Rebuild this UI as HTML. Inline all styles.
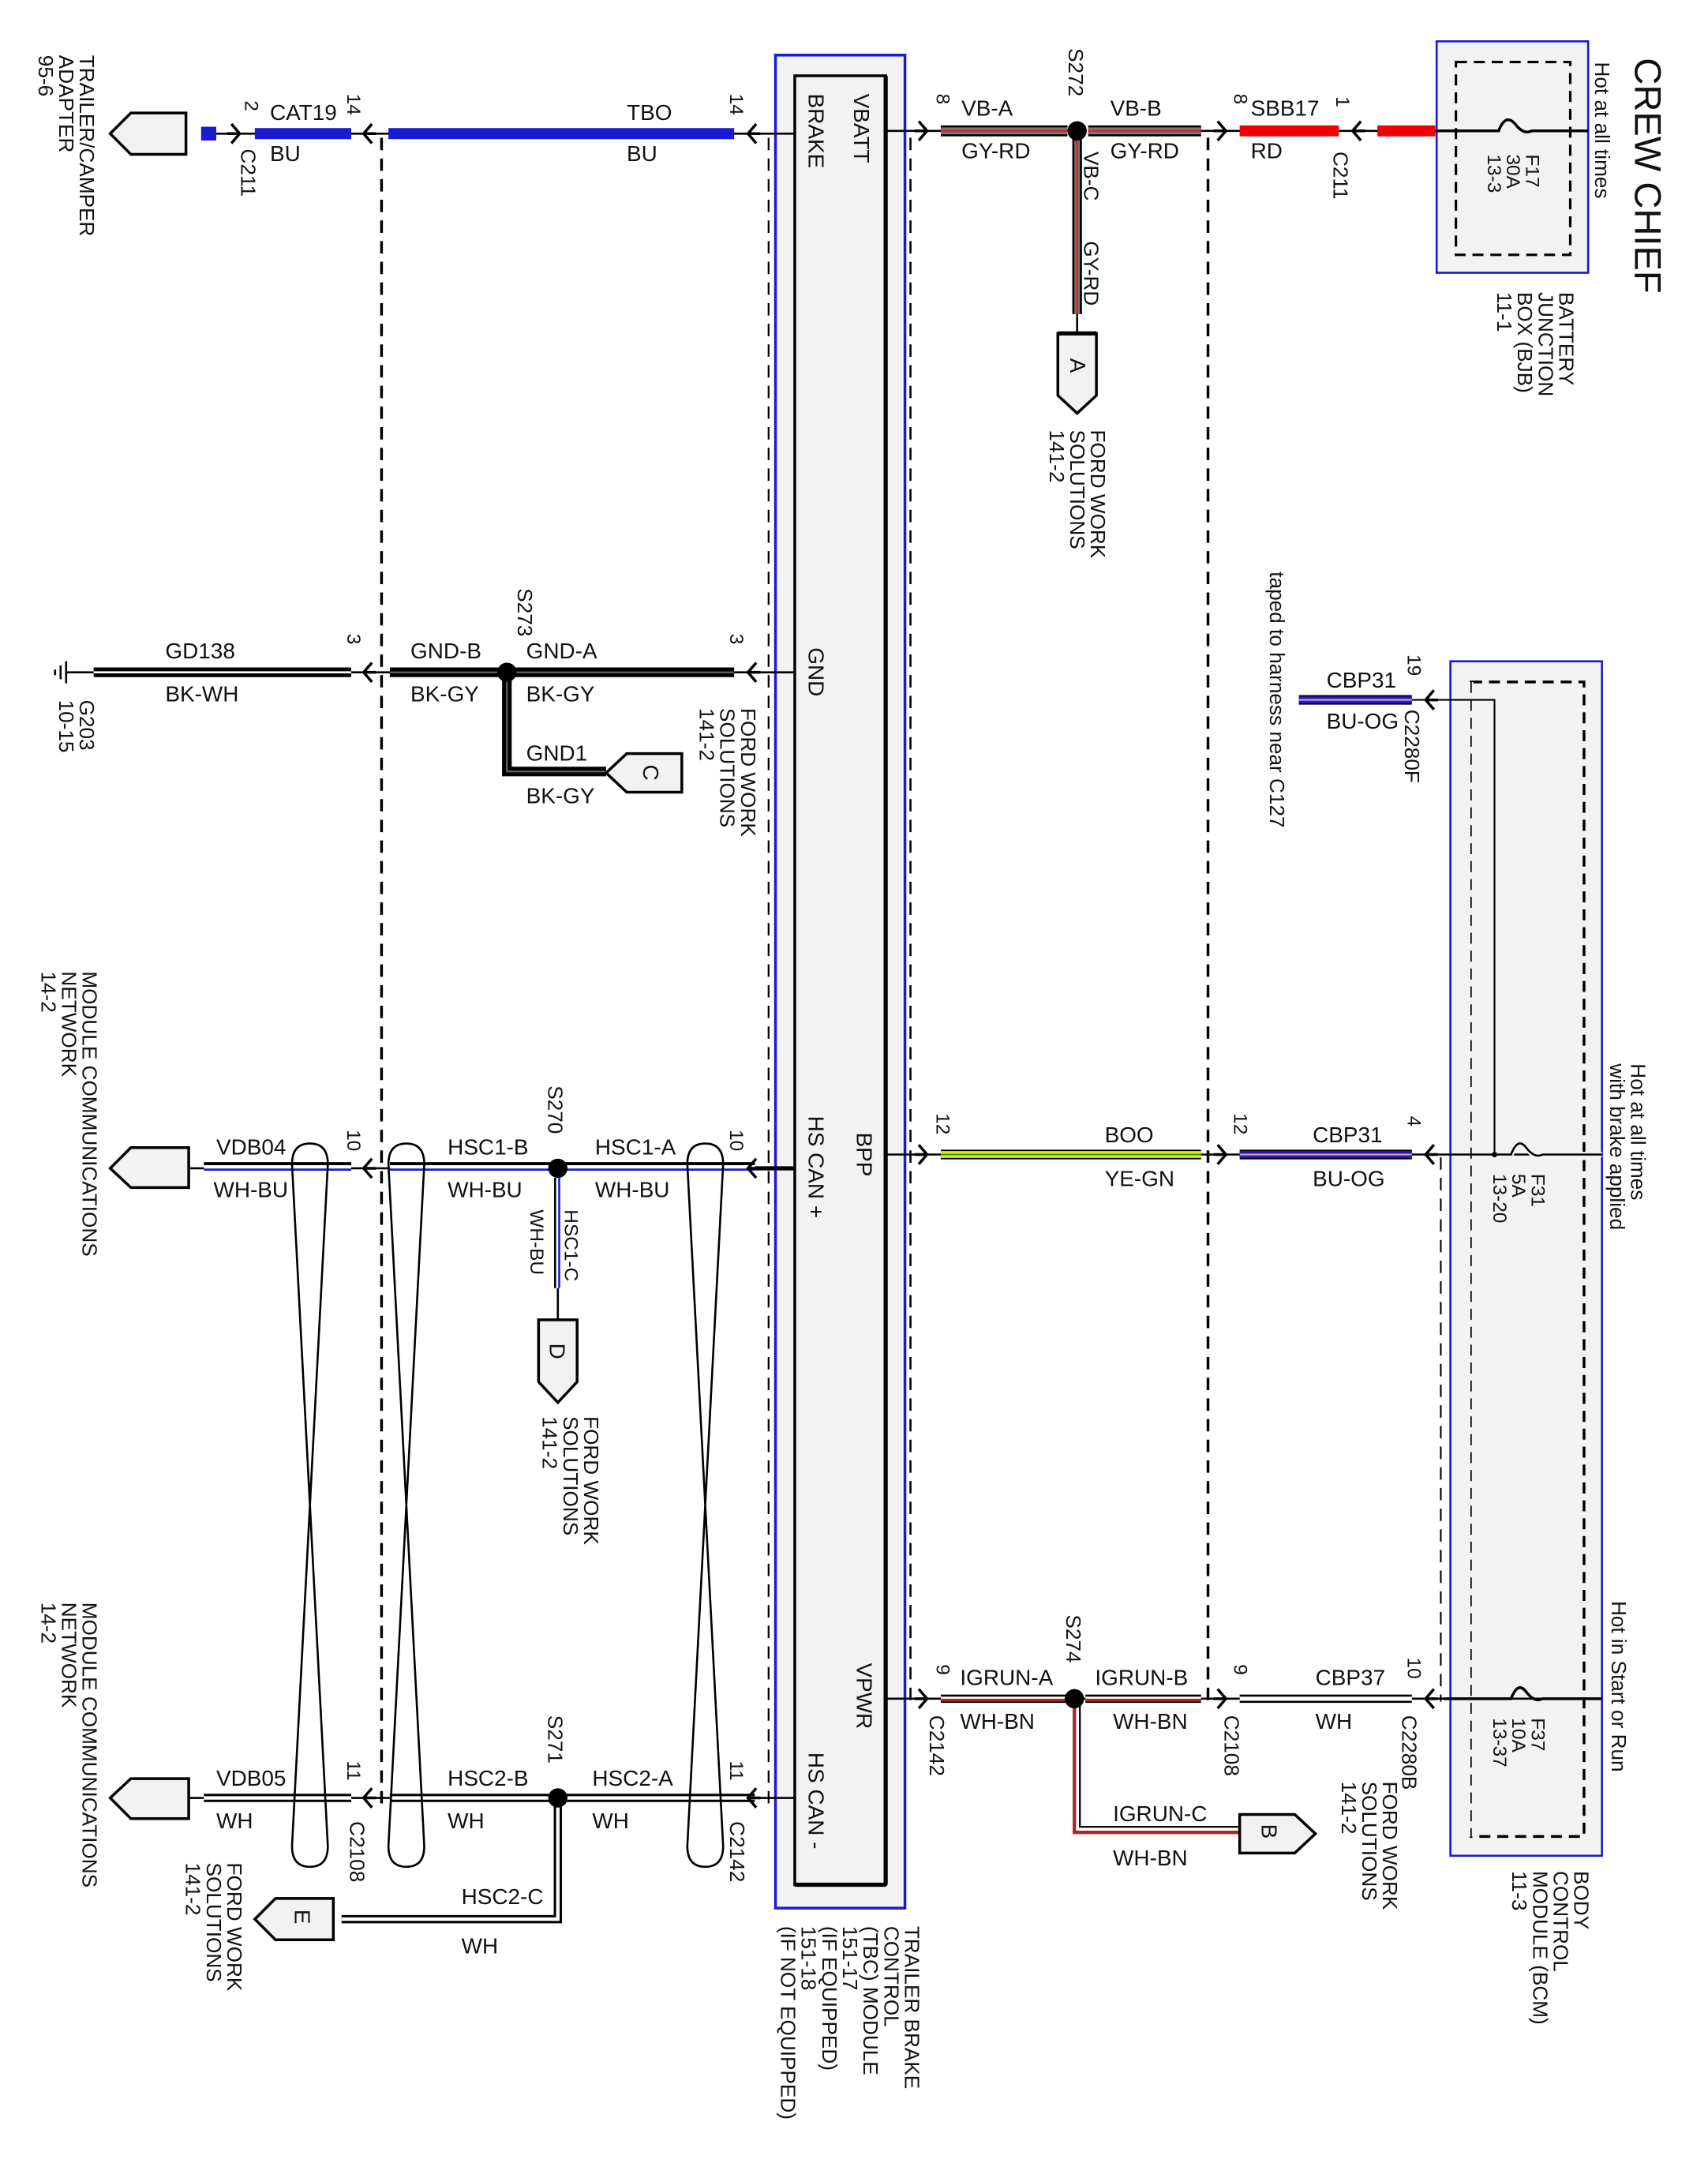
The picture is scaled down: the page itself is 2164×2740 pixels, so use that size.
<!DOCTYPE html>
<html><head><meta charset="utf-8"><style>
html,body{margin:0;padding:0;background:#fff}
svg{display:block}
text{font-family:"Liberation Sans",sans-serif;fill:#111}
</style></head><body>
<svg width="2164" height="2740" viewBox="0 0 1240 1570" preserveAspectRatio="none" xmlns="http://www.w3.org/2000/svg">
<defs>
<g id="la"><path d="M6,-7 L0,0 L6,7 M0,0 H9" fill="none" stroke="#000" stroke-width="2"/></g>
<g id="ra"><path d="M-6,-7 L0,0 L-6,7 M0,0 H-9" fill="none" stroke="#000" stroke-width="2"/></g>
</defs>
<g font-size="16">
<!-- TBC module -->
<rect x="563" y="40" width="94" height="1345" fill="#f2f2f2" stroke="#1a1ad0" stroke-width="2"/>
<rect x="577" y="55" width="66" height="1313" fill="#f2f2f2" stroke="#000" stroke-width="2"/>
<line x1="643" y1="55" x2="643" y2="1368" stroke="#000" stroke-width="3"/>
<line x1="577" y1="1368" x2="643" y2="1368" stroke="#000" stroke-width="3"/>
<text transform="translate(620,68) rotate(90)">VBATT</text>
<text transform="translate(587,68) rotate(90)">BRAKE</text>
<text transform="translate(587,470) rotate(90)">GND</text>
<text transform="translate(622,822) rotate(90)">BPP</text>
<text transform="translate(587,810) rotate(90)">HS CAN +</text>
<text transform="translate(622,1207) rotate(90)">VPWR</text>
<text transform="translate(587,1272) rotate(90)">HS CAN -</text>
<text transform="translate(657,1398) rotate(90)" font-size="15"><tspan x="0">TRAILER BRAKE</tspan><tspan x="0" dy="15">CONTROL</tspan><tspan x="0" dy="15">(TBC) MODULE</tspan><tspan x="0" dy="15">151-17</tspan><tspan x="0" dy="15">(IF EQUIPPED)</tspan><tspan x="0" dy="15">151-18</tspan><tspan x="0" dy="15">(IF NOT EQUIPPED)</tspan></text>

<!-- dashed verticals -->
<g stroke="#000" stroke-width="2" stroke-dasharray="9,6" fill="none">
<line x1="277" y1="100" x2="277" y2="1310"/>
<line x1="558" y1="100" x2="558" y2="1310" stroke-width="1.3"/>
<line x1="661" y1="100" x2="661" y2="1235" stroke-width="1.5"/>
<line x1="877" y1="100" x2="877" y2="1235"/>
<line x1="1046" y1="840" x2="1046" y2="1235" stroke-width="1.2"/>
</g>

<!-- Row 1 left: TBO -->
<line x1="148" y1="97" x2="577" y2="97" stroke="#000" stroke-width="1.5"/>
<polygon points="80,97 95,82 135,82 135,112 95,112" fill="#f2f2f2" stroke="#000" stroke-width="2"/>
<rect x="146" y="92" width="11" height="10" fill="#1a1ad0"/>
<line x1="185" y1="97" x2="255" y2="97" stroke="#1a1ad0" stroke-width="8"/>
<line x1="282" y1="97" x2="533" y2="97" stroke="#1a1ad0" stroke-width="8"/>
<use href="#ra" x="174" y="97"/>
<use href="#la" x="264" y="97"/>
<use href="#la" x="543" y="97"/>
<text x="196" y="87">CAT19</text><text x="196" y="117">BU</text>
<text x="455" y="87">TBO</text><text x="455" y="117">BU</text>
<text transform="translate(178,73) rotate(90)" font-size="14">2</text>
<text transform="translate(252,68) rotate(90)" font-size="14">14</text>
<text transform="translate(530,68) rotate(90)" font-size="14">14</text>
<text transform="translate(175,108) rotate(90)" font-size="15">C211</text>
<text transform="translate(58,40) rotate(90)" font-size="15"><tspan x="0">TRAILER/CAMPER</tspan><tspan x="0" dy="15">ADAPTER</tspan><tspan x="0" dy="15">95-6</tspan></text>

<!-- GND row -->
<line x1="48" y1="488" x2="577" y2="488" stroke="#000" stroke-width="1.5"/>
<g stroke="#000" stroke-width="1.5"><line x1="48" y1="480" x2="48" y2="496"/><line x1="44" y1="483" x2="44" y2="493"/><line x1="40" y1="486" x2="40" y2="490"/></g>
<line x1="68" y1="488" x2="255" y2="488" stroke="#000" stroke-width="7"/>
<line x1="68" y1="488" x2="255" y2="488" stroke="#fff" stroke-width="1.5"/>
<line x1="283" y1="488" x2="533" y2="488" stroke="#000" stroke-width="7"/>
<line x1="283" y1="488" x2="533" y2="488" stroke="#666" stroke-width="1.2"/>
<path d="M368,488 V560 H440" fill="none" stroke="#000" stroke-width="7"/>
<path d="M368,488 V560 H440" fill="none" stroke="#666" stroke-width="1.2"/>
<circle cx="368" cy="488" r="7" fill="#000"/>
<polygon points="440,561 455,547 495,547 495,575 455,575" fill="#f2f2f2" stroke="#000" stroke-width="2"/>
<text transform="translate(467,555) rotate(90)">C</text>
<use href="#la" x="264" y="488"/><use href="#la" x="543" y="488"/>
<text x="120" y="478">GD138</text><text x="120" y="509">BK-WH</text>
<text x="298" y="478">GND-B</text><text x="298" y="509">BK-GY</text>
<text x="382" y="478">GND-A</text><text x="382" y="509">BK-GY</text>
<text x="382" y="552">GND1</text><text x="382" y="583">BK-GY</text>
<text transform="translate(376,427) rotate(90)" font-size="15">S273</text>
<text transform="translate(252,460) rotate(90)" font-size="14">3</text>
<text transform="translate(530,460) rotate(90)" font-size="14">3</text>
<text transform="translate(58,508) rotate(90)" font-size="15"><tspan x="0">G203</tspan><tspan x="0" dy="15">10-15</tspan></text>
<text transform="translate(538,514) rotate(90)" font-size="15"><tspan x="0">FORD WORK</tspan><tspan x="0" dy="15">SOLUTIONS</tspan><tspan x="0" dy="15">141-2</tspan></text>

<!-- HS CAN + row -->
<line x1="135" y1="848" x2="577" y2="848" stroke="#000" stroke-width="1.5"/>
<polygon points="80,848 95,833 137,833 137,862 95,862" fill="#f2f2f2" stroke="#000" stroke-width="2"/>
<g>
<line x1="148" y1="846" x2="255" y2="846" stroke="#000" stroke-width="5"/><line x1="148" y1="847" x2="255" y2="847" stroke="#fff" stroke-width="2.5"/><line x1="148" y1="849" x2="255" y2="849" stroke="#1a1ad0" stroke-width="1.5"/>
<line x1="283" y1="846" x2="400" y2="846" stroke="#000" stroke-width="5"/><line x1="283" y1="847" x2="400" y2="847" stroke="#fff" stroke-width="2.5"/><line x1="283" y1="849" x2="400" y2="849" stroke="#1a1ad0" stroke-width="1.5"/>
<line x1="410" y1="846" x2="548" y2="846" stroke="#000" stroke-width="5"/><line x1="410" y1="847" x2="548" y2="847" stroke="#fff" stroke-width="2.5"/><line x1="410" y1="849" x2="548" y2="849" stroke="#1a1ad0" stroke-width="1.5"/>
<line x1="548" y1="848" x2="577" y2="848" stroke="#000" stroke-width="3"/>
<line x1="403" y1="855" x2="403" y2="935" stroke="#000" stroke-width="1.5"/><line x1="406" y1="855" x2="406" y2="935" stroke="#1a1ad0" stroke-width="1.5"/>
<line x1="405" y1="935" x2="405" y2="958" stroke="#000" stroke-width="1.5"/>
</g>
<circle cx="405" cy="848" r="7" fill="#000"/>
<polygon points="391,958 419,958 419,1003 405,1018 391,1003" fill="#f2f2f2" stroke="#000" stroke-width="2"/>
<text transform="translate(399,975) rotate(90)">D</text>
<use href="#la" x="264" y="848"/><use href="#la" x="543" y="848"/>
<text x="157" y="838">VDB04</text><text x="155" y="869">WH-BU</text>
<text x="325" y="838">HSC1-B</text><text x="325" y="869">WH-BU</text>
<text x="432" y="838">HSC1-A</text><text x="432" y="869">WH-BU</text>
<text transform="translate(398,788) rotate(90)" font-size="15">S270</text>
<text transform="translate(410,878) rotate(90)" font-size="14">HSC1-C</text>
<text transform="translate(385,878) rotate(90)" font-size="14">WH-BU</text>
<text transform="translate(252,820) rotate(90)" font-size="14">10</text>
<text transform="translate(530,820) rotate(90)" font-size="14">10</text>
<text transform="translate(60,705) rotate(90)" font-size="15"><tspan x="0">MODULE COMMUNICATIONS</tspan><tspan x="0" dy="15">NETWORK</tspan><tspan x="0" dy="15">14-2</tspan></text>
<text transform="translate(424,1028) rotate(90)" font-size="15"><tspan x="0">FORD WORK</tspan><tspan x="0" dy="15">SOLUTIONS</tspan><tspan x="0" dy="15">141-2</tspan></text>

<!-- HS CAN - row -->
<line x1="135" y1="1305" x2="577" y2="1305" stroke="#000" stroke-width="1.5"/>
<polygon points="80,1305 95,1291 137,1291 137,1320 95,1320" fill="#f2f2f2" stroke="#000" stroke-width="2"/>
<g stroke="#000">
<line x1="148" y1="1305" x2="255" y2="1305" stroke-width="6"/><line x1="283" y1="1305" x2="400" y2="1305" stroke-width="6"/><line x1="410" y1="1305" x2="548" y2="1305" stroke-width="6"/>
<path d="M405,1305 V1393 H248" fill="none" stroke-width="6"/>
</g>
<g stroke="#fff">
<line x1="148" y1="1305" x2="255" y2="1305" stroke-width="2.5"/><line x1="283" y1="1305" x2="400" y2="1305" stroke-width="2.5"/><line x1="410" y1="1305" x2="548" y2="1305" stroke-width="2.5"/>
<path d="M405,1305 V1393 H248" fill="none" stroke-width="2.5"/>
</g>
<circle cx="405" cy="1305" r="7" fill="#000"/>
<polygon points="185,1393 200,1378 242,1378 242,1408 200,1408" fill="#f2f2f2" stroke="#000" stroke-width="2"/>
<text transform="translate(214,1386) rotate(90)">E</text>
<use href="#la" x="264" y="1305"/><use href="#la" x="543" y="1305"/>
<text x="157" y="1296">VDB05</text><text x="157" y="1327">WH</text>
<text x="325" y="1296">HSC2-B</text><text x="325" y="1327">WH</text>
<text x="430" y="1296">HSC2-A</text><text x="430" y="1327">WH</text>
<text x="335" y="1382">HSC2-C</text><text x="335" y="1418">WH</text>
<text transform="translate(398,1245) rotate(90)" font-size="15">S271</text>
<text transform="translate(252,1278) rotate(90)" font-size="14">11</text>
<text transform="translate(530,1278) rotate(90)" font-size="14">11</text>
<text transform="translate(254,1322) rotate(90)" font-size="15">C2108</text>
<text transform="translate(530,1322) rotate(90)" font-size="15">C2142</text>
<text transform="translate(60,1163) rotate(90)" font-size="15"><tspan x="0">MODULE COMMUNICATIONS</tspan><tspan x="0" dy="15">NETWORK</tspan><tspan x="0" dy="15">14-2</tspan></text>
<text transform="translate(165,1352) rotate(90)" font-size="15"><tspan x="0">FORD WORK</tspan><tspan x="0" dy="15">SOLUTIONS</tspan><tspan x="0" dy="15">141-2</tspan></text>

<!-- twisted pair loops -->
<g fill="none" stroke="#000" stroke-width="1.5">
<path d="M212,845 Q212,830 225,830 Q238,830 238,845 L212,1340 Q212,1355 225,1355 Q238,1355 238,1340 Z"/>
<path d="M282,845 Q282,830 295,830 Q308,830 308,845 L282,1340 Q282,1355 295,1355 Q308,1355 308,1340 Z"/>
<path d="M499,845 Q499,830 512,830 Q525,830 525,845 L499,1340 Q499,1355 512,1355 Q525,1355 525,1340 Z"/>
</g>

<!-- Right: top row -->
<line x1="643" y1="95" x2="683" y2="95" stroke="#000" stroke-width="1.5"/>
<use href="#ra" x="673" y="95"/>
<g>
<line x1="683" y1="95" x2="775" y2="95" stroke="#000" stroke-width="8"/><line x1="683" y1="95" x2="775" y2="95" stroke="#777" stroke-width="5"/><line x1="683" y1="95" x2="775" y2="95" stroke="#e02020" stroke-width="1.5"/>
<line x1="790" y1="95" x2="872" y2="95" stroke="#000" stroke-width="8"/><line x1="790" y1="95" x2="872" y2="95" stroke="#777" stroke-width="5"/><line x1="790" y1="95" x2="872" y2="95" stroke="#e02020" stroke-width="1.5"/>
<line x1="782" y1="100" x2="782" y2="228" stroke="#000" stroke-width="7"/><line x1="782" y1="100" x2="782" y2="228" stroke="#777" stroke-width="4"/><line x1="782" y1="100" x2="782" y2="228" stroke="#e02020" stroke-width="1.5"/>
<line x1="782" y1="228" x2="782" y2="242" stroke="#000" stroke-width="1.5"/>
</g>
<circle cx="782" cy="95" r="7" fill="#000"/>
<polygon points="768,242 796,242 796,287 782,300 768,287" fill="#f2f2f2" stroke="#000" stroke-width="2"/>
<line x1="768" y1="242" x2="796" y2="242" stroke="#000" stroke-width="3"/>
<text transform="translate(777,260) rotate(90)">A</text>
<line x1="872" y1="95" x2="1043" y2="95" stroke="#000" stroke-width="1.5"/>
<use href="#ra" x="890" y="95"/>
<line x1="900" y1="95" x2="972" y2="95" stroke="#ee0000" stroke-width="8"/>
<use href="#la" x="982" y="95"/>
<line x1="1000" y1="95" x2="1042" y2="95" stroke="#ee0000" stroke-width="8"/>
<text x="698" y="84">VB-A</text><text x="698" y="115">GY-RD</text>
<text x="806" y="84">VB-B</text><text x="806" y="115">GY-RD</text>
<text x="908" y="84">SBB17</text><text x="908" y="115">RD</text>
<text transform="translate(776,35) rotate(90)" font-size="15">S272</text>
<text transform="translate(787,110) rotate(90)" font-size="15">VB-C</text>
<text transform="translate(787,175) rotate(90)" font-size="15">GY-RD</text>
<text transform="translate(680,68) rotate(90)" font-size="14">8</text>
<text transform="translate(896,68) rotate(90)" font-size="14">8</text>
<text transform="translate(970,70) rotate(90)" font-size="14">1</text>
<text transform="translate(968,110) rotate(90)" font-size="15">C211</text>
<text transform="translate(792,312) rotate(90)" font-size="15"><tspan x="0">FORD WORK</tspan><tspan x="0" dy="15">SOLUTIONS</tspan><tspan x="0" dy="15">141-2</tspan></text>

<!-- BJB -->
<rect x="1043" y="30" width="110" height="168" fill="#f2f2f2" stroke="#1a1ad0" stroke-width="1.5"/>
<rect x="1057" y="45" width="83" height="140" fill="none" stroke="#000" stroke-width="1.8" stroke-dasharray="8,5"/>
<path d="M1042,95 H1088 Q1093,82 1100,90 Q1106,98 1112,95 H1153" fill="none" stroke="#000" stroke-width="2"/>
<text transform="translate(1108,112) rotate(90)" font-size="14"><tspan x="0">F17</tspan><tspan x="0" dy="14">30A</tspan><tspan x="0" dy="14">13-3</tspan></text>
<text transform="translate(1158,45) rotate(90)" font-size="15">Hot at all times</text>
<text transform="translate(1132,212) rotate(90)" font-size="15"><tspan x="0">BATTERY</tspan><tspan x="0" dy="15">JUNCTION</tspan><tspan x="0" dy="15">BOX (BJB)</tspan><tspan x="0" dy="15">11-1</tspan></text>
<text transform="translate(1187,42) rotate(90)" font-size="27">CREW CHIEF</text>

<text transform="translate(922,415) rotate(90)" font-size="15">taped to harness near C127</text>

<!-- BCM -->
<rect x="1053" y="480" width="110" height="867" fill="#f2f2f2" stroke="#1a1ad0" stroke-width="1.5"/>
<rect x="1068" y="495" width="82" height="838" fill="none" stroke="#000" stroke-width="2" stroke-dasharray="8,5"/>
<line x1="1068" y1="495" x2="1068" y2="1333" stroke="#f2f2f2" stroke-width="3"/>
<line x1="1068" y1="495" x2="1068" y2="1333" stroke="#000" stroke-width="1" stroke-dasharray="8,5"/>
<line x1="943" y1="508" x2="1025" y2="508" stroke="#000" stroke-width="7"/><line x1="943" y1="508" x2="1025" y2="508" stroke="#1a1ad0" stroke-width="5"/><line x1="943" y1="508" x2="1025" y2="508" stroke="#f0a0a0" stroke-width="1.2"/>
<path d="M1025,508 H1085 V838" fill="none" stroke="#000" stroke-width="1.2"/>
<use href="#la" x="1035" y="508"/>
<text x="963" y="499">CBP31</text><text x="963" y="529">BU-OG</text>
<text transform="translate(1022,475) rotate(90)" font-size="14">19</text>
<text transform="translate(1020,515) rotate(90)" font-size="15">C2280F</text>

<!-- BPP row -->
<line x1="643" y1="838" x2="1163" y2="838" stroke="#000" stroke-width="1.5"/>
<use href="#ra" x="673" y="838"/><use href="#ra" x="890" y="838"/><use href="#la" x="1035" y="838"/>
<line x1="683" y1="838" x2="872" y2="838" stroke="#000" stroke-width="7"/><line x1="683" y1="838" x2="872" y2="838" stroke="#e8e800" stroke-width="5"/><line x1="683" y1="838" x2="872" y2="838" stroke="#20a020" stroke-width="1.2"/>
<line x1="900" y1="838" x2="1025" y2="838" stroke="#000" stroke-width="7"/><line x1="900" y1="838" x2="1025" y2="838" stroke="#1a1ad0" stroke-width="5"/><line x1="900" y1="838" x2="1025" y2="838" stroke="#f0a0a0" stroke-width="1.2"/>
<path d="M1085,838 H1097 Q1102,825 1108,833 Q1114,841 1120,838 H1163" fill="none" stroke="#f2f2f2" stroke-width="4"/>
<path d="M1085,838 H1097 Q1102,825 1108,833 Q1114,841 1120,838 H1163" fill="none" stroke="#000" stroke-width="1.5"/>
<circle cx="1085" cy="838" r="2" fill="#000"/>
<text x="802" y="829">BOO</text><text x="802" y="861">YE-GN</text>
<text x="953" y="829">CBP31</text><text x="953" y="861">BU-OG</text>
<text transform="translate(680,808) rotate(90)" font-size="14">12</text>
<text transform="translate(896,808) rotate(90)" font-size="14">12</text>
<text transform="translate(1022,810) rotate(90)" font-size="14">4</text>
<text transform="translate(1112,852) rotate(90)" font-size="14"><tspan x="0">F31</tspan><tspan x="0" dy="14">5A</tspan><tspan x="0" dy="14">13-20</tspan></text>
<text transform="translate(1184,772) rotate(90)" font-size="15"><tspan x="0">Hot at all times</tspan><tspan x="0" dy="15">with brake applied</tspan></text>

<!-- VPWR row -->
<line x1="643" y1="1233" x2="1163" y2="1233" stroke="#000" stroke-width="1.5"/>
<use href="#ra" x="673" y="1233"/><use href="#ra" x="890" y="1233"/><use href="#la" x="1035" y="1233"/>
<line x1="683" y1="1233" x2="775" y2="1233" stroke="#000" stroke-width="6"/><line x1="683" y1="1233" x2="775" y2="1233" stroke="#fff" stroke-width="3"/><line x1="683" y1="1234" x2="775" y2="1234" stroke="#a52a2a" stroke-width="2"/>
<line x1="788" y1="1233" x2="872" y2="1233" stroke="#000" stroke-width="6"/><line x1="788" y1="1233" x2="872" y2="1233" stroke="#fff" stroke-width="3"/><line x1="788" y1="1234" x2="872" y2="1234" stroke="#a52a2a" stroke-width="2"/>
<line x1="900" y1="1233" x2="1025" y2="1233" stroke="#000" stroke-width="6"/><line x1="900" y1="1233" x2="1025" y2="1233" stroke="#fff" stroke-width="3"/>
<path d="M780,1236 V1330 H900" fill="none" stroke="#a52a2a" stroke-width="2.5"/>
<path d="M784,1236 V1326 H900" fill="none" stroke="#000" stroke-width="1.3"/>
<circle cx="780" cy="1233" r="7" fill="#000"/>
<polygon points="900,1317 940,1317 955,1331 940,1345 900,1345" fill="#f2f2f2" stroke="#000" stroke-width="2"/>
<text transform="translate(916,1324) rotate(90)">B</text>
<path d="M1048,1233 H1097 Q1102,1220 1108,1228 Q1114,1236 1120,1233 H1163" fill="none" stroke="#000" stroke-width="2"/>
<text x="697" y="1223">IGRUN-A</text><text x="697" y="1255">WH-BN</text>
<text x="795" y="1223">IGRUN-B</text><text x="808" y="1255">WH-BN</text>
<text x="955" y="1223">CBP37</text><text x="955" y="1255">WH</text>
<text x="808" y="1322">IGRUN-C</text><text x="808" y="1354">WH-BN</text>
<text transform="translate(774,1172) rotate(90)" font-size="15">S274</text>
<text transform="translate(680,1208) rotate(90)" font-size="14">9</text>
<text transform="translate(896,1208) rotate(90)" font-size="14">9</text>
<text transform="translate(1022,1203) rotate(90)" font-size="14">10</text>
<text transform="translate(675,1245) rotate(90)" font-size="15">C2142</text>
<text transform="translate(889,1245) rotate(90)" font-size="15">C2108</text>
<text transform="translate(1018,1245) rotate(90)" font-size="15">C2280B</text>
<text transform="translate(1004,1293) rotate(90)" font-size="15"><tspan x="0">FORD WORK</tspan><tspan x="0" dy="15">SOLUTIONS</tspan><tspan x="0" dy="15">141-2</tspan></text>
<text transform="translate(1112,1247) rotate(90)" font-size="14"><tspan x="0">F37</tspan><tspan x="0" dy="14">10A</tspan><tspan x="0" dy="14">13-37</tspan></text>
<text transform="translate(1170,1162) rotate(90)" font-size="15">Hot in Start or Run</text>
<text transform="translate(1143,1358) rotate(90)" font-size="15"><tspan x="0">BODY</tspan><tspan x="0" dy="15">CONTROL</tspan><tspan x="0" dy="15">MODULE (BCM)</tspan><tspan x="0" dy="15">11-3</tspan></text>
</g>
</svg>
</body></html>
